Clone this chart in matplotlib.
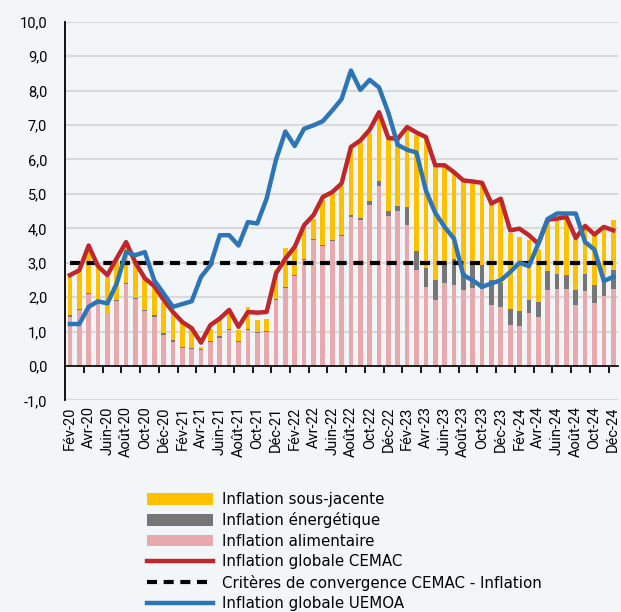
import matplotlib
matplotlib.use("Agg")
import matplotlib.pyplot as plt
import numpy as np
from matplotlib.ticker import FuncFormatter, FixedLocator

plt.rcParams['font.family'] = ['Roboto', 'DejaVu Sans']

mois = ["Jan", "Fév", "Mar", "Avr", "Mai", "Juin", "Juil", "Août", "Sep", "Oct", "Nov", "Déc"]
dates = []
for a in range(20, 25):
    for m in mois:
        dates.append(m + "-" + str(a))
dates = dates[1:]  # Fév-20 ... Déc-24

alimentaire = [1.43, 1.64, 2.09, 1.82, 1.53, 1.88, 2.38, 1.94, 1.59, 1.43,
               0.90, 0.70, 0.51, 0.50, 0.46, 0.70, 0.82, 1.06, 0.70, 1.04,
               0.95, 0.99, 1.93, 2.27, 2.61, 3.07, 3.65, 3.48, 3.63, 3.77,
               4.33, 4.24, 4.67, 5.23, 4.37, 4.50, 4.09, 2.78, 2.30, 1.91,
               2.40, 2.35, 2.20, 2.28, 2.25, 1.77, 1.72, 1.19, 1.16, 1.53,
               1.43, 2.20, 2.25, 2.25, 1.77, 2.17, 1.83, 2.03, 2.25]
energetique = [0.04, 0.02, 0.03, 0.02, 0.02, 0.05, 0.04, 0.05, 0.03, 0.04,
               0.05, 0.05, 0.05, 0.03, 0.03, 0.04, 0.04, 0.03, 0.04, 0.03,
               0.04, 0.03, 0.03, 0.04, 0.04, 0.03, 0.03, 0.04, 0.03, 0.03,
               0.05, 0.06, 0.12, 0.13, 0.13, 0.15, 0.53, 0.56, 0.55, 0.59,
               0.60, 0.77, 0.50, 0.69, 0.68, 0.72, 0.68, 0.48, 0.43, 0.38,
               0.43, 0.56, 0.43, 0.39, 0.43, 0.51, 0.52, 0.42, 0.55]
sous_jacente = [1.23, 1.09, 1.18, 1.01, 1.05, 1.12, 1.03, 0.99, 0.93, 0.88,
                0.91, 0.82, 0.72, 0.57, 0.07, 0.35, 0.52, 0.58, 0.30, 0.65,
                0.34, 0.36, 0.82, 1.13, 0.85, 0.99, 0.60, 1.29, 1.34, 1.42,
                1.95, 2.20, 1.98, 1.88, 2.10, 1.90, 2.25, 3.38, 3.78, 3.32,
                2.80, 2.48, 2.66, 2.37, 2.37, 2.21, 2.46, 2.18, 2.16, 1.74,
                1.54, 1.49, 1.57, 1.66, 1.52, 1.37, 1.45, 1.52, 1.43]
cemac = [2.64, 2.78, 3.50, 2.90, 2.64, 3.13, 3.60, 3.00, 2.55, 2.32,
         1.93, 1.57, 1.28, 1.10, 0.68, 1.19, 1.38, 1.63, 1.14, 1.57,
         1.55, 1.57, 2.69, 3.12, 3.46, 4.09, 4.38, 4.91, 5.05, 5.30,
         6.36, 6.55, 6.86, 7.37, 6.62, 6.60, 6.94, 6.78, 6.65, 5.83,
         5.83, 5.63, 5.39, 5.36, 5.32, 4.72, 4.86, 3.94, 3.99, 3.80,
         3.55, 4.25, 4.28, 4.33, 3.72, 4.07, 3.82, 4.04, 3.94]
uemoa = [1.22, 1.22, 1.72, 1.88, 1.82, 2.40, 3.31, 3.22, 3.31, 2.49,
         2.11, 1.72, 1.80, 1.88, 2.59, 2.93, 3.80, 3.80, 3.50, 4.18,
         4.14, 4.86, 5.99, 6.81, 6.39, 6.89, 6.99, 7.11, 7.42, 7.75,
         8.58, 8.02, 8.31, 8.09, 7.35, 6.42, 6.28, 6.20, 5.10, 4.45,
         4.04, 3.70, 2.64, 2.49, 2.30, 2.40, 2.49, 2.73, 3.00, 2.90,
         3.55, 4.27, 4.43, 4.43, 4.43, 3.60, 3.38, 2.47, 2.59]
critere = [3.0] * len(dates)

x = np.arange(len(dates))
alim = np.array(alimentaire)
ener = np.array(energetique)

fig = plt.figure(figsize=(6.21, 6.12), dpi=100, facecolor="#F3F6F8")
ax = fig.add_axes([0.105, 0.3456, 0.89, 0.619])
ax.set_facecolor("#F3F6F8")

w = 0.5
ax.bar(x, alim, w, color="#E8A9AC", label="Inflation alimentaire", zorder=2)
ax.bar(x, ener, w, bottom=alim, color="#767676", label="Inflation énergétique", zorder=2)
ax.bar(x, sous_jacente, w, bottom=alim + ener, color="#FFC000", label="Inflation sous-jacente", zorder=2)
ax.plot(x, critere, color="black", lw=3, dashes=(2.4, 1.6),
        label="Critères de convergence CEMAC - Inflation", zorder=3)
ax.plot(x, cemac, color="#C0272D", lw=3.2, label="Inflation globale CEMAC", zorder=4)
ax.plot(x, uemoa, color="#2E75B6", lw=3.2, label="Inflation globale UEMOA", zorder=5)

ax.set_xlim(-0.5, len(dates) - 0.5)
ax.set_ylim(-1, 10)
ax.set_yticks(np.arange(-1, 11, 1))
ax.yaxis.set_major_formatter(FuncFormatter(lambda v, p: f"{v:.1f}".replace(".", ",")))
ax.grid(axis="y", color="#D9D9D9", lw=1.5, zorder=0)
ax.tick_params(axis="y", length=0, pad=13, labelsize=10.5, colors="black")

for s in ["top", "right"]:
    ax.spines[s].set_visible(False)
ax.spines["left"].set_color("black")
ax.spines["left"].set_linewidth(1.3)
ax.spines["bottom"].set_position(("data", 0))
ax.spines["bottom"].set_color("black")
ax.spines["bottom"].set_linewidth(1.2)

ax.set_xticks(x[::2])
ax.set_xticklabels(dates[::2], rotation=90, fontsize=10.5)
ax.xaxis.set_minor_locator(FixedLocator(np.arange(1.5, len(dates) - 0.5, 2)))
ax.tick_params(axis="x", which="major", length=0, pad=29)
ax.tick_params(axis="x", which="minor", length=5, width=1.3, color="black", direction="out")

h, l = ax.get_legend_handles_labels()
ordre = ["Inflation sous-jacente", "Inflation énergétique", "Inflation alimentaire",
         "Inflation globale CEMAC", "Critères de convergence CEMAC - Inflation",
         "Inflation globale UEMOA"]
hh = [h[l.index(o)] for o in ordre]
fig.legend(hh, ordre, loc="upper left", bbox_to_anchor=(0.236, 0.196), frameon=False,
           prop={"family": ["DejaVu Sans"], "size": 10.8},
           handlelength=4.4, handleheight=0.8, handletextpad=0.6,
           labelspacing=0.36, borderpad=0, borderaxespad=0)

fig.savefig("out.png", dpi=100, facecolor=fig.get_facecolor())
